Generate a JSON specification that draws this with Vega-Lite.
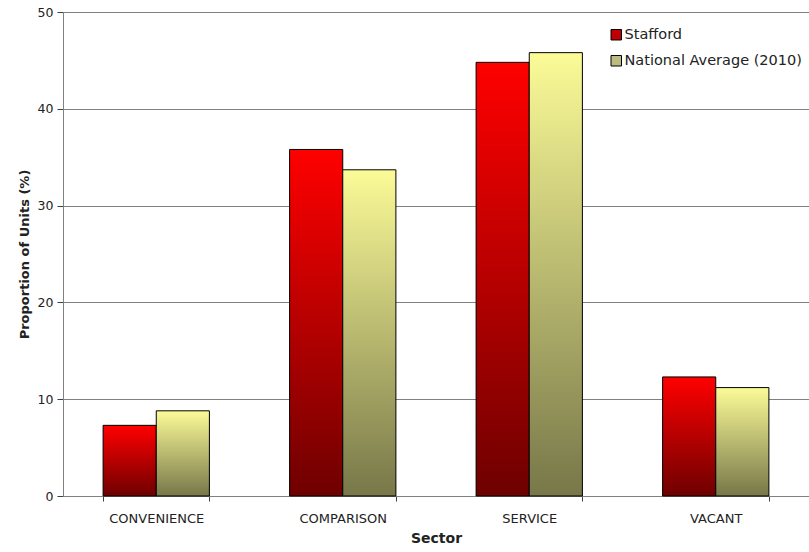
{
  "$schema": "https://vega.github.io/schema/vega-lite/v6.json",
  "width": 746,
  "height": 484,
  "autosize": "none",
  "padding": {"left": 63, "top": 12, "right": 0, "bottom": 56},
  "background": "white",
  "config": {
    "view": {"stroke": null},
    "font": "DejaVu Sans"
  },
  "data": {
    "values": [
      {"sector": "CONVENIENCE", "series": "Stafford", "value": 7.3},
      {"sector": "CONVENIENCE", "series": "National Average (2010)", "value": 8.8},
      {"sector": "COMPARISON", "series": "Stafford", "value": 35.8},
      {"sector": "COMPARISON", "series": "National Average (2010)", "value": 33.7},
      {"sector": "SERVICE", "series": "Stafford", "value": 44.8},
      {"sector": "SERVICE", "series": "National Average (2010)", "value": 45.8},
      {"sector": "VACANT", "series": "Stafford", "value": 12.3},
      {"sector": "VACANT", "series": "National Average (2010)", "value": 11.2}
    ]
  },
  "encoding": {
    "x": {
      "field": "sector",
      "type": "nominal",
      "sort": ["CONVENIENCE", "COMPARISON", "SERVICE", "VACANT"],
      "title": "Sector",
      "scale": {"paddingInner": 0.43, "paddingOuter": 0.215},
      "axis": {
        "labelAngle": 0,
        "tickBand": "extent",
        "tickSize": 5,
        "tickColor": "#404040",
        "domainColor": "#808080",
        "labelFontSize": 13,
        "labelColor": "#222222",
        "labelPadding": 11,
        "titleFontSize": 14,
        "titleFontWeight": "bold",
        "titleColor": "#222222",
        "titlePadding": 6
      }
    },
    "xOffset": {
      "field": "series",
      "type": "nominal",
      "sort": ["Stafford", "National Average (2010)"],
      "scale": {"paddingInner": 0, "paddingOuter": 0}
    },
    "y": {
      "field": "value",
      "type": "quantitative",
      "title": "Proportion of Units (%)",
      "scale": {"domain": [0, 50], "nice": false},
      "axis": {
        "values": [0, 10, 20, 30, 40, 50],
        "grid": true,
        "gridColor": "#808080",
        "gridWidth": 1,
        "tickSize": 6,
        "tickColor": "#404040",
        "domainColor": "#808080",
        "labelFontSize": 12.5,
        "labelColor": "#222222",
        "labelPadding": 4,
        "titleFontSize": 13,
        "titleFontWeight": "bold",
        "titleColor": "#222222",
        "titlePadding": 6
      }
    }
  },
  "layer": [
    {
      "mark": {"type": "bar", "stroke": "black", "strokeWidth": 1},
      "encoding": {
        "fill": {
          "condition": {
            "test": "datum.series === 'Stafford'",
            "value": {"gradient": "linear", "x1": 0, "y1": 0, "x2": 0, "y2": 1, "stops": [{"offset": 0, "color": "#ff0000"}, {"offset": 1, "color": "#6e0000"}]}
          },
          "value": {"gradient": "linear", "x1": 0, "y1": 0, "x2": 0, "y2": 1, "stops": [{"offset": 0, "color": "#fbfb98"}, {"offset": 1, "color": "#777749"}]}
        }
      }
    },
    {
      "mark": {"type": "point", "shape": "square", "filled": true, "opacity": 0},
      "encoding": {
        "fill": {
          "field": "series",
          "type": "nominal",
          "scale": {
            "domain": ["Stafford", "National Average (2010)"],
            "range": ["#c00000", "#bcbc80"]
          },
          "legend": {
            "title": null,
            "orient": "none",
            "legendX": 546,
            "legendY": 15.5,
            "padding": 0,
            "symbolType": "square",
            "symbolSize": 110,
            "symbolOpacity": 1,
            "symbolStrokeColor": "black",
            "symbolStrokeWidth": 1,
            "labelFontSize": 14.5,
            "labelLimit": 400,
            "labelColor": "#222222",
            "labelOffset": 1,
            "rowPadding": 10
          }
        }
      }
    }
  ]
}
